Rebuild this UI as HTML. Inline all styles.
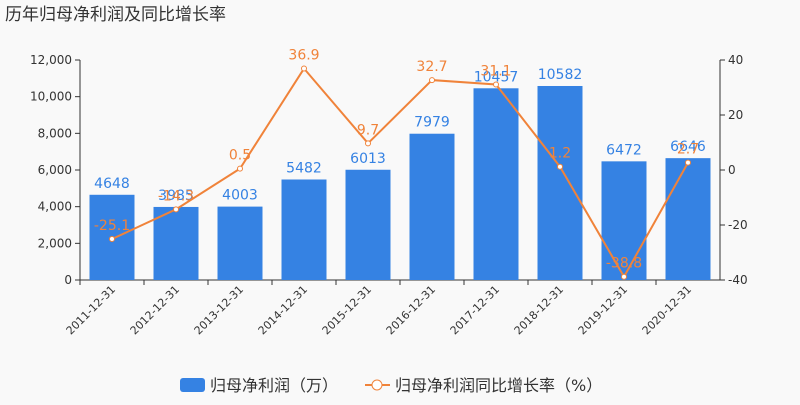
<!DOCTYPE html>
<html><head><meta charset="utf-8"><style>
body{margin:0;background:#f9f9f9;font-family:"Liberation Sans","Noto Sans CJK SC",sans-serif;}
svg text{font-family:"DejaVu Sans","Noto Sans CJK SC",sans-serif;}
</style></head><body>
<svg id="c" width="800" height="400">
<text x="5" y="20" font-size="17" fill="#333" style="font-family:'Noto Sans CJK SC',sans-serif">历年归母净利润及同比增长率</text>
</svg>
<script>
const categories=["2011-12-31","2012-12-31","2013-12-31","2014-12-31","2015-12-31","2016-12-31","2017-12-31","2018-12-31","2019-12-31","2020-12-31"];
const profit=[4648,3985,4003,5482,6013,7979,10457,10582,6472,6646];
const growth=[-25.1,-14.3,0.5,36.9,9.7,32.7,31.1,1.2,-38.8,2.7];
const leftTicks=[0,2000,4000,6000,8000,10000,12000];
const rightTicks=[-40,-20,0,20,40];
const NS="http://www.w3.org/2000/svg",svg=document.getElementById('c');
const L=80,R=720,T=60,B=280;
const yL=v=>B-(v/12000)*(B-T);
const yR=v=>B-((v+40)/80)*(B-T);
const bw=(R-L)/categories.length;
const xC=i=>L+bw*(i+0.5);
function mk(t,a,p){const e=document.createElementNS(NS,t);for(const k in a)e.setAttribute(k,a[k]);(p||svg).appendChild(e);return e;}
mk('line',{x1:L,y1:T,x2:L,y2:B,stroke:'#333'});
mk('line',{x1:R,y1:T,x2:R,y2:B,stroke:'#333'});
mk('line',{x1:L,y1:B,x2:R,y2:B,stroke:'#333'});
leftTicks.forEach(v=>{mk('line',{x1:L-5,y1:yL(v),x2:L,y2:yL(v),stroke:'#333'});
const t=mk('text',{x:L-8,y:yL(v)+4,'text-anchor':'end','font-size':12,fill:'#333'});t.textContent=v.toLocaleString('en-US');
});
rightTicks.forEach(v=>{mk('line',{x1:R,y1:yR(v),x2:R+5,y2:yR(v),stroke:'#333'});
const t=mk('text',{x:R+8,y:yR(v)+4,'font-size':12,fill:'#333'});t.textContent=v;
});
categories.forEach((c,i)=>{
mk('line',{x1:L+bw*i,y1:B,x2:L+bw*i,y2:B+5,stroke:'#333'});
const t=mk('text',{transform:`translate(${xC(i)+4},${B+10}) rotate(-45)`,'text-anchor':'end','font-size':11,fill:'#333'});t.textContent=c;

const b=mk('rect',{x:xC(i)-22.5,y:yL(profit[i]),width:45,height:B-yL(profit[i]),fill:'#3582e3'});

const bl=mk('text',{x:xC(i),y:yL(profit[i])-7,'text-anchor':'middle','font-size':14,fill:'#3582e3'});bl.textContent=profit[i];

});
mk('polyline',{points:growth.map((v,i)=>xC(i)+','+yR(v)).join(' '),fill:'none',stroke:'#f0833a','stroke-width':2});
growth.forEach((v,i)=>{
const p=mk('circle',{cx:xC(i),cy:yR(v),r:2.5,fill:'#fff',stroke:'#f0833a'});

const t=mk('text',{x:xC(i),y:yR(v)-9,'text-anchor':'middle','font-size':14,fill:'#f0833a'});t.textContent=v;

});
// legend
const lg=mk('g',{});
mk('rect',{x:180,y:378,width:25,height:14,rx:3,fill:'#3582e3'},lg);
let t1=mk('text',{x:210,y:391,'font-size':16,fill:'#333'},lg);t1.textContent='归母净利润（万）';
mk('line',{x1:365,y1:385,x2:390,y2:385,stroke:'#f0833a','stroke-width':2},lg);
mk('circle',{cx:377,cy:385,r:5,fill:'#fff',stroke:'#f0833a'},lg);
let t2=mk('text',{x:395,y:391,'font-size':16,fill:'#333'},lg);t2.textContent='归母净利润同比增长率（%）';
</script>
</body></html>
